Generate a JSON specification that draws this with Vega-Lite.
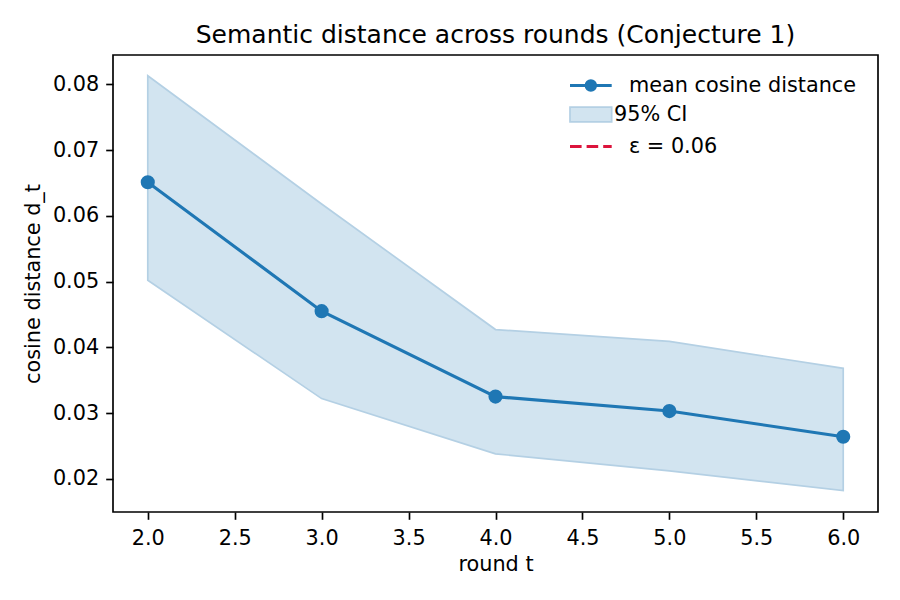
{
  "$schema": "https://vega.github.io/schema/vega-lite/v6.json",
  "width": 765,
  "height": 457,
  "autosize": {"type": "none"},
  "padding": {"left": 113, "top": 55, "right": 22, "bottom": 88},
  "background": "white",
  "title": {
    "text": "Semantic distance across rounds (Conjecture 1)",
    "font": "DejaVu Sans",
    "fontSize": 25,
    "fontWeight": "normal",
    "color": "black",
    "anchor": "middle",
    "baseline": "alphabetic",
    "offset": 13,
    "dy": 26
  },
  "data": {
    "values": [
      {"t": 2, "mean": 0.0651, "lo": 0.0502, "hi": 0.0813},
      {"t": 3, "mean": 0.0455, "lo": 0.0322, "hi": 0.0618},
      {"t": 4, "mean": 0.0325, "lo": 0.0238, "hi": 0.0427},
      {"t": 5, "mean": 0.0303, "lo": 0.0212, "hi": 0.0409},
      {"t": 6, "mean": 0.0264, "lo": 0.0182, "hi": 0.0368}
    ]
  },
  "encoding": {
    "x": {
      "field": "t",
      "type": "quantitative",
      "scale": {"domain": [1.8, 6.2], "nice": false, "zero": false},
      "axis": {
        "title": "round t",
        "values": [2, 2.5, 3, 3.5, 4, 4.5, 5, 5.5, 6],
        "format": ".1f",
        "labelPadding": 9,
        "titlePadding": 6
      }
    }
  },
  "layer": [
    {
      "mark": {
        "type": "area",
        "fillOpacity": 1,
        "stroke": "#b4d0e4",
        "strokeWidth": 1.7
      },
      "encoding": {
        "y": {
          "field": "lo",
          "type": "quantitative",
          "scale": {"domain": [0.01495, 0.08446], "nice": false, "zero": false},
          "axis": {
            "title": "cosine distance d_t",
            "values": [0.02, 0.03, 0.04, 0.05, 0.06, 0.07, 0.08],
            "format": ".2f",
            "labelPadding": 7,
            "titlePadding": 9
          }
        },
        "y2": {"field": "hi"},
        "color": {
          "datum": "95% CI",
          "type": "nominal",
          "scale": {"domain": ["95% CI"], "range": ["#d2e4f0"]},
          "legend": {
            "title": null,
            "orient": "none",
            "legendX": 456,
            "legendY": 48,
            "padding": 0,
            "labelOffset": 22,
            "symbolSize": 441,
            "symbolType": "M-1,-0.695H2.97V0.695H-1Z",
            "symbolStrokeColor": "#b4d0e4",
            "symbolStrokeWidth": 1.7,
            "symbolOpacity": 1
          }
        }
      }
    },
    {
      "mark": {
        "type": "line",
        "strokeWidth": 3.1,
        "point": {"filled": true, "size": 200, "opacity": 1}
      },
      "encoding": {
        "y": {"field": "mean", "type": "quantitative"},
        "color": {
          "datum": "mean cosine distance",
          "type": "nominal",
          "scale": {"domain": ["mean cosine distance"], "range": ["#1f77b4"]},
          "legend": {
            "title": null,
            "orient": "none",
            "legendX": 456,
            "legendY": 18,
            "padding": 0,
            "labelOffset": 35,
            "symbolSize": 441,
            "symbolType": "M-1.095,0H2.876 M0.742,0A0.148,0.148 0 1,1 1.038,0A0.148,0.148 0 1,1 0.742,0 M0.447,0A0.443,0.443 0 1,1 1.333,0A0.443,0.443 0 1,1 0.447,0",
            "symbolFillColor": "transparent",
            "symbolStrokeWidth": 3.1,
            "symbolOpacity": 1
          }
        }
      }
    },
    {
      "data": {"values": [{"eps": 0.06}]},
      "mark": {"type": "rule", "strokeWidth": 3.1, "strokeDash": [11.6, 5]},
      "encoding": {
        "y": {"field": "eps", "type": "quantitative"},
        "color": {
          "datum": "ε = 0.06",
          "type": "nominal",
          "scale": {"domain": ["ε = 0.06"], "range": ["#dc143c"]},
          "legend": {
            "title": null,
            "orient": "none",
            "legendX": 456,
            "legendY": 79,
            "padding": 0,
            "labelOffset": 35,
            "symbolSize": 441,
            "symbolType": "M-1.095,0H2.876",
            "symbolFillColor": "transparent",
            "symbolStrokeWidth": 3.1,
            "symbolDash": [11.6, 5],
            "symbolOpacity": 1
          }
        }
      }
    }
  ],
  "resolve": {"scale": {"color": "independent"}, "legend": {"color": "independent"}},
  "config": {
    "view": {"stroke": "black", "strokeWidth": 1.67},
    "axis": {
      "labelFont": "DejaVu Sans",
      "labelFontSize": 20.8,
      "labelColor": "black",
      "labelFlush": false,
      "titleFont": "DejaVu Sans",
      "titleFontSize": 20.8,
      "titleFontWeight": "normal",
      "titleColor": "black",
      "tickColor": "black",
      "tickWidth": 1.67,
      "tickSize": 7.3,
      "grid": false,
      "domain": false
    },
    "legend": {
      "labelFont": "DejaVu Sans",
      "labelFontSize": 20.8,
      "labelColor": "black",
      "labelLimit": 400,
      "symbolSize": 441,
      "fillColor": "white"
    }
  }
}
